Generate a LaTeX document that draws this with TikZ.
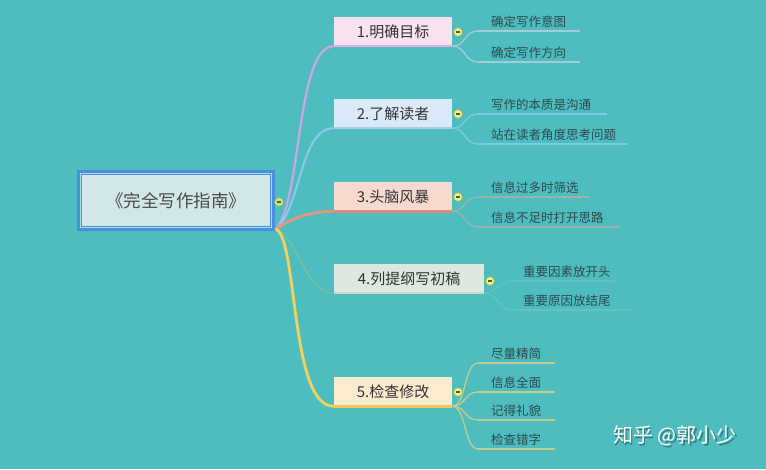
\documentclass[tikz,border=0pt]{standalone}
\usepackage{fontspec}
\setmainfont{Noto Sans CJK SC}
\newfontfamily\cjk{Noto Sans CJK SC}
\definecolor{bg}{HTML}{4EBDC0}
\definecolor{rootbd}{HTML}{4A8EDF}
\definecolor{rootfill}{HTML}{D3E7E9}
\definecolor{rootin}{HTML}{A8E0E0}
\definecolor{roottxt}{HTML}{4A4A4A}
\definecolor{txt}{HTML}{333333}
\definecolor{leaftxt}{HTML}{2E4A4C}
\definecolor{bfa}{HTML}{F9E2EF}\definecolor{bla}{HTML}{E4AEDB}\definecolor{cca}{HTML}{CBA8E3}\definecolor{lla}{HTML}{A6CCD6}
\definecolor{bfb}{HTML}{DBEAF8}\definecolor{blb}{HTML}{A9CDEE}\definecolor{ccb}{HTML}{8FC8EE}\definecolor{llb}{HTML}{7CCBE3}
\definecolor{bfc}{HTML}{F6D9CF}\definecolor{blc}{HTML}{E48A72}\definecolor{ccc}{HTML}{E4977F}\definecolor{llc}{HTML}{9DB3AA}
\definecolor{bfd}{HTML}{DDE8DE}\definecolor{bld}{HTML}{C9D9CB}\definecolor{ccd}{HTML}{9CC27A}\definecolor{lld}{HTML}{62C2BD}
\definecolor{bfe}{HTML}{FDEBD0}\definecolor{ble}{HTML}{F2C760}\definecolor{cce}{HTML}{F1D25C}\definecolor{lle}{HTML}{C6CC8C}
\definecolor{mfill}{HTML}{EEF0A0}
\definecolor{mroot}{HTML}{C6E69A}
\definecolor{mbd}{HTML}{9DBB4A}
\definecolor{mdark}{HTML}{4F5F2A}
\begin{document}
\begin{tikzpicture}[x=1pt,y=-1pt,
  branch/.style={rectangle, minimum height=29pt, inner sep=0pt, font=\cjk\fontsize{15}{18}\selectfont, text=txt},
  leaf/.style={anchor=base west, inner sep=0pt, font=\cjk\fontsize{12.5}{15}\selectfont, text=leaftxt},
  minus/.style={circle, draw=mbd, fill=mfill, minimum size=9pt, inner sep=0pt, line width=0.8pt,
    path picture={\draw[line width=1.3pt, mdark] ([xshift=-2.3pt]path picture bounding box.center) -- ([xshift=2.3pt]path picture bounding box.center);}},
  bline/.style={line width=2.2pt},
  conn/.style={line width=2.4pt, line cap=round},
  lconn/.style={line width=1.3pt},
]
\fill[bg] (0,0) rectangle (766,469);
\useasboundingbox (0,0) rectangle (766,469);

% root
\node[draw=rootbd, line width=5pt, fill=rootfill, minimum width=193pt, minimum height=56pt, inner sep=0pt,
  font=\cjk\fontsize{17.5}{20}\selectfont, text=roottxt] (root) at (176,200.5) {《完全写作指南》};
\draw[rootin, line width=1pt] ([shift={(3.5,3.5)}]root.north west) rectangle ([shift={(-3.5,-3.5)}]root.south east);
\coordinate (o) at ([shift={(1,-2)}]root.south east);

% branch boxes
\node[branch, fill=bfa, minimum width=118pt] (b1) at (393,31.5) {1.明确目标};
\node[branch, fill=bfb, minimum width=118pt] (b2) at (393,113.5) {2.了解读者};
\node[branch, fill=bfc, minimum width=118pt] (b3) at (393,196.5) {3.头脑风暴};
\node[branch, fill=bfd, minimum width=150pt] (b4) at (409,278.5) {4.列提纲写初稿};
\node[branch, fill=bfe, minimum width=118pt] (b5) at (393,391.5) {5.检查修改};

% main connectors
\draw[conn, ccd, line width=1pt, opacity=0.7] (o) .. controls (300,240) and (305,293) .. (b4.south west);
\draw[conn, cca, line width=2.2pt] (o) .. controls (302,200) and (296,46) .. (b1.south west);
\draw[conn, ccb, line width=2pt] (o) .. controls (302,205) and (300,128) .. (b2.south west);
\draw[conn, ccc, line width=2.8pt] (o) .. controls (296,216) and (310,212) .. (b3.south west);
\draw[conn, cce, line width=2.8pt] (o) .. controls (298,240) and (290,407) .. (b5.south west);

% bottom lines of boxes
\draw[bline, bla] (b1.south west) -- (b1.south east);
\draw[bline, blb] (b2.south west) -- (b2.south east);
\draw[bline, blc, line width=2.8pt] (b3.south west) -- (b3.south east);
\draw[bline, bld] (b4.south west) -- (b4.south east);
\draw[bline, ble, line width=2.8pt] (b5.south west) -- (b5.south east);

% leaf coordinates
\coordinate (s11) at (478,31);  \coordinate (e11) at (580,31);
\coordinate (s12) at (478,62);  \coordinate (e12) at (580,62);
\coordinate (s21) at (478,114); \coordinate (e21) at (607,114);
\coordinate (s22) at (478,144); \coordinate (e22) at (627,144);
\coordinate (s31) at (478,197); \coordinate (e31) at (590,197);
\coordinate (s32) at (478,227); \coordinate (e32) at (620,227);
\coordinate (s41) at (512,281); \coordinate (e41) at (615,281);
\coordinate (s42) at (512,310); \coordinate (e42) at (632,310);
\coordinate (s51) at (478,363); \coordinate (e51) at (555,363);
\coordinate (s52) at (478,392); \coordinate (e52) at (555,392);
\coordinate (s53) at (478,420); \coordinate (e53) at (555,420);
\coordinate (s54) at (478,449); \coordinate (e54) at (555,449);

% leaf connectors
\foreach \b/\s/\c in {b1/s11/lla, b1/s12/lla, b2/s21/llb, b2/s22/llb, b3/s31/llc, b3/s32/llc,
                      b4/s41/lld, b4/s42/lld, b5/s51/lle, b5/s52/lle, b5/s53/lle, b5/s54/lle}{
  \draw[lconn, \c] (\b.south east) .. controls ([xshift=14pt]\b.south east) and ([xshift=-14pt]\s) .. (\s);
}
\draw[lconn, lla] (s11) -- (e11);
\draw[lconn, lla] (s12) -- (e12);
\draw[lconn, llb] (s21) -- (e21);
\draw[lconn, llb] (s22) -- (e22);
\draw[lconn, llc] (s31) -- (e31);
\draw[lconn, llc] (s32) -- (e32);
\draw[lconn, lld] (s41) -- (e41);
\draw[lconn, lld] (s42) -- (e42);
\draw[lconn, lle] (s51) -- (e51);
\draw[lconn, lle] (s52) -- (e52);
\draw[lconn, lle] (s53) -- (e53);
\draw[lconn, lle] (s54) -- (e54);

% leaf texts
\node[leaf] (t11) at (491,26) {确定写作意图};
\node[leaf] (t12) at (491,57) {确定写作方向};
\node[leaf] (t21) at (491,109) {写作的本质是沟通};
\node[leaf] (t22) at (491,139) {站在读者角度思考问题};
\node[leaf] (t31) at (491,192) {信息过多时筛选};
\node[leaf] (t32) at (491,222) {信息不足时打开思路};
\node[leaf] (t41) at (523,276) {重要因素放开头};
\node[leaf] (t42) at (523,305) {重要原因放结尾};
\node[leaf] (t51) at (491,358) {尽量精简};
\node[leaf] (t52) at (491,387) {信息全面};
\node[leaf] (t53) at (491,415) {记得礼貌};
\node[leaf] (t54) at (491,444) {检查错字};

% collapse markers
\node[minus, fill=mroot] (m0) at (279,202) {};
\node[minus] (m1) at (458,32) {};
\node[minus] (m2) at (458,114) {};
\node[minus] (m3) at (458,197) {};
\node[minus] (m4) at (490,281) {};
\node[minus] (m5) at (458,392) {};

% watermark
\node[font=\cjk\fontsize{20}{24}\selectfont, text=black, opacity=0.35] (wms) at (676.5,437.5) {知乎 @郭小少};
\node[font=\cjk\fontsize{20}{24}\selectfont, text=white] (wm) at (675,436) {知乎 @郭小少};
\end{tikzpicture}
\end{document}
